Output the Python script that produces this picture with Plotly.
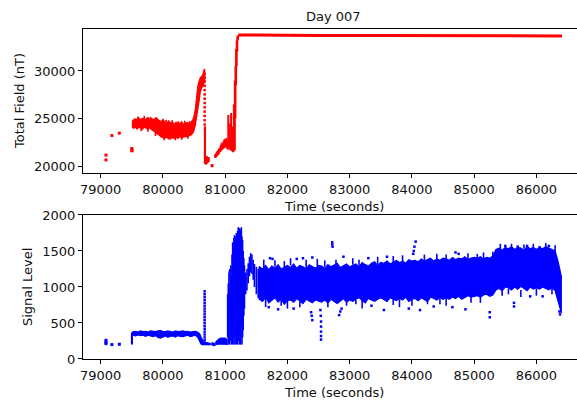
import plotly.graph_objects as go
from plotly.subplots import make_subplots

# ---------------- Total field (nT) ----------------
# isolated early readings
tf_pts_t = [79085, 79085, 79180, 79300, 79500, 79500, 79505, 80790]
tf_pts_v = [21200, 20700, 23250, 23500, 21900, 21650, 21750, 20100]

# noisy band before the field jump: time, lower and upper envelope
tf_band_t = [79510, 79530, 79550, 79580, 79610, 79640, 79670, 79700, 79730, 79760, 79790,
             79820, 79850, 79880, 79910, 79940, 79970, 80000, 80030, 80060, 80090,
             80120, 80150, 80180, 80210, 80240, 80270, 80300, 80330, 80360, 80390,
             80420, 80450, 80480, 80500, 80520, 80540, 80560, 80580, 80600, 80620,
             80640, 80660, 80672]
tf_band_lo = [24100, 24000, 24150, 23950, 24100, 24050, 23900, 24150, 24000, 23900, 24050,
              23850, 23700, 23600, 23400, 23300, 23100, 23000, 22950, 23100, 22900,
              23050, 23000, 22950, 23100, 22950, 23150, 23000, 23050, 23150, 23100,
              23200, 23300, 23500, 23800, 24300, 24800, 25800, 26800, 27800, 28200,
              28400, 28700, 29000]
tf_band_hi = [24800, 24900, 25000, 24950, 25100, 24900, 25050, 25000, 24950, 25150, 24900,
              25050, 24850, 25100, 24950, 24800, 24700, 24900, 24650, 24500, 24800,
              24550, 24700, 24400, 24650, 24500, 24450, 24700, 24400, 24550, 24600,
              24500, 24650, 24900, 25300, 26000, 27500, 28400, 28900, 29300, 29400,
              29600, 30100, 30200]

# short excursions off the band edges: time, from, to
tf_spk_t = [79600, 79700, 79800, 79900, 80000, 80050, 80150, 80250, 80350, 80430,
            79650, 79760, 79880, 80020, 80120, 80200, 80300, 80400]
tf_spk_a = [24900, 25000, 24950, 24900, 24800, 24600, 24600, 24500, 24500, 24500,
            24050, 24000, 23600, 23000, 23050, 23000, 23050, 23150]
tf_spk_b = [25250, 25300, 25200, 25150, 25000, 24900, 24850, 24750, 24800, 24750,
            23700, 23650, 23200, 22750, 22800, 22750, 22800, 22900]

# bottom of the drop
tf_dip_t = [80675, 80690, 80705, 80720, 80735]
tf_dip_lo = [20300, 20200, 20300, 20400, 20500]
tf_dip_hi = [24200, 20900, 21100, 20800, 21000]

# sparse dotted drop after the peak
tf_drop_t = [80670] * 13
tf_drop_v = [29700, 29300, 28900, 28450, 28000, 27550, 27100, 26650, 26200, 25750,
             25300, 24850, 24400]

# recovery ramp up to lock
tf_ramp_t = [80840, 80855, 80870, 80885, 80900, 80915, 80930, 80945, 80960, 80975,
             80990, 81005, 81020, 81035, 81050, 81065, 81080, 81095, 81110, 81125,
             81140, 81155, 81165, 81175, 81185, 81195, 81205]
tf_ramp_lo = [20900, 20950, 21100, 21200, 21300, 21500, 21600, 21700, 21800, 21900,
              21950, 22000, 22050, 21800, 21800, 22200, 21700, 22000, 21600, 21500,
              21600, 21700, 25000, 28500, 30500, 32000, 33200]
tf_ramp_hi = [21300, 21450, 21600, 21700, 21900, 22000, 22300, 22500, 22400, 22700,
              22900, 22800, 23000, 22700, 25400, 24500, 23200, 25600, 24200, 23500,
              26500, 29000, 30500, 32300, 33200, 33600, 33750]

# locked steady field
tf_lock_t = [81210, 81500, 82000, 82500, 82900, 83000, 83500, 84000, 84500, 85000,
             85300, 85500, 86000, 86300, 86410]
tf_lock_v = [33760, 33740, 33730, 33720, 33720, 33700, 33700, 33690, 33680, 33680,
             33660, 33650, 33650, 33660, 33670]

# ---------------- Signal level ----------------
sl_pts_t = [79085, 79085, 79085, 79180, 79300, 80800, 80820, 81080]
sl_pts_v = [260, 230, 213, 200, 205, 210, 200, 1220]

# first rise of the signal at 79500
sl_edge_t = [79500, 79505]
sl_edge_lo = [200, 210]
sl_edge_hi = [360, 370]

sl_low_t = [79510, 79520, 79560, 79600, 79640, 79680, 79720, 79760, 79800, 79840,
            79880, 79920, 79960, 80000, 80040, 80080, 80120, 80160, 80200, 80240,
            80280, 80320, 80360, 80400, 80440, 80480, 80520, 80560, 80590, 80610,
            80630, 80650, 80690, 80710, 80730, 80760]
sl_low_lo = [320, 330, 320, 335, 325, 330, 315, 330, 320, 310,
             325, 300, 290, 310, 320, 300, 315, 320, 305, 325,
             315, 310, 320, 330, 310, 325, 330, 300, 240, 210,
             200, 200, 200, 195, 200, 200]
sl_low_hi = [370, 380, 385, 375, 390, 380, 385, 375, 390, 385,
             380, 390, 395, 385, 380, 390, 385, 375, 390, 380,
             385, 390, 380, 385, 375, 380, 385, 370, 350, 310,
             260, 240, 230, 225, 220, 215]

# small hump before the relock
sl_hump_t = [80850, 80880, 80910, 80940, 80970, 81000, 81030]
sl_hump_lo = [200, 205, 210, 205, 210, 205, 200]
sl_hump_hi = [240, 265, 285, 290, 285, 290, 270]

# spike column after loss of lock
sl_col_t = [80670] * 18
sl_col_v = [940, 900, 860, 820, 780, 740, 700, 660, 620, 580, 540, 500, 460, 420,
            380, 340, 300, 260]

# oscillation while the sensor relocks
sl_osc_t = [81040, 81050, 81060, 81070, 81080, 81090, 81100, 81110, 81120, 81130,
            81140, 81150, 81160, 81170, 81180, 81190, 81200, 81210, 81220, 81230,
            81240, 81250, 81260, 81270, 81280, 81290, 81300, 81310, 81330, 81350,
            81370, 81390, 81410, 81430, 81450, 81470, 81500, 81530]
sl_osc_lo = [300, 200, 450, 200, 250, 600, 200, 300, 200, 500,
             200, 300, 200, 700, 200, 400, 200, 250, 600, 200,
             300, 200, 500, 200, 300, 400, 600, 700, 900, 950,
             1050, 1150, 1200, 1180, 1100, 1000, 900, 850]
sl_osc_hi = [900, 1050, 1200, 1000, 1250, 1300, 1150, 1450, 1620, 1500,
             1680, 1720, 1600, 1700, 1750, 1640, 1780, 1830, 1700, 1820,
             1800, 1750, 1830, 1700, 1650, 1500, 1400, 1300, 1200, 1250,
             1330, 1420, 1470, 1450, 1380, 1320, 1280, 1250]

# locked signal band
sl_band_t = [81540, 81550, 81600, 81650, 81700, 81750, 81800, 81850, 81900, 81950, 82000,
             82050, 82100, 82150, 82200, 82250, 82300, 82350, 82400, 82450, 82500,
             82550, 82600, 82650, 82700, 82750, 82800, 82850, 82900, 82950, 83000,
             83050, 83100, 83150, 83200, 83250, 83300, 83350, 83400, 83450, 83500,
             83550, 83600, 83650, 83700, 83750, 83800, 83850, 83900, 83950, 84000,
             84050, 84100, 84150, 84200, 84250, 84300, 84350, 84400, 84450, 84500,
             84550, 84600, 84650, 84700, 84750, 84800, 84850, 84900, 84950, 85000,
             85050, 85100, 85150, 85200, 85250, 85300, 85350, 85400, 85450, 85500,
             85550, 85600, 85650, 85700, 85750, 85800, 85850, 85900, 85950, 86000,
             86050, 86100, 86150, 86200, 86250, 86300, 86350, 86400]
sl_band_lo = [850, 830, 800, 860, 780, 820, 850, 790, 830, 760, 810,
              820, 790, 840, 800, 770, 830, 810, 780, 820, 800,
              790, 820, 780, 830, 800, 770, 810, 840, 790, 820,
              800, 830, 850, 810, 780, 840, 820, 800, 830, 850,
              820, 800, 850, 830, 810, 840, 820, 860, 800, 830,
              840, 810, 850, 830, 800, 860, 840, 820, 850, 830,
              850, 830, 860, 840, 870, 830, 850, 880, 860, 870,
              880, 860, 890, 900, 870, 890, 960, 980, 950, 1000,
              990, 960, 1000, 970, 1010, 980, 950, 1000, 970, 990,
              970, 1000, 980, 960, 990, 950, 800, 640]
sl_band_hi = [1250, 1280, 1250, 1300, 1240, 1290, 1260, 1310, 1250, 1280, 1300,
              1270, 1320, 1260, 1300, 1280, 1250, 1310, 1290, 1260, 1300,
              1290, 1260, 1310, 1280, 1300, 1330, 1270, 1290, 1320, 1280,
              1300, 1320, 1280, 1340, 1310, 1290, 1330, 1350, 1300, 1340,
              1330, 1360, 1320, 1350, 1370, 1340, 1360, 1330, 1380, 1360,
              1370, 1350, 1390, 1360, 1380, 1400, 1360, 1390, 1370, 1400,
              1390, 1370, 1410, 1380, 1400, 1390, 1420, 1380, 1400, 1410,
              1400, 1420, 1390, 1410, 1400, 1430, 1520, 1540, 1510, 1550,
              1530, 1560, 1520, 1550, 1540, 1510, 1560, 1530, 1550, 1520,
              1550, 1530, 1560, 1540, 1520, 1500, 1350, 1150]

# short excursions off the band edges: time, from, to
sl_spk_t = [81620, 81800, 81950, 82050, 82300, 82480, 82600, 82780, 83050, 83150,
            83450, 83700, 83850, 84200, 84400, 84550, 84900, 85050, 85150, 85300,
            85420, 85600, 85800, 85950, 86150, 86300,
            81650, 81900, 82000, 82200, 82650, 82950, 83100, 83200, 83700, 83800,
            84000, 84250, 84450, 84550, 84950, 85100, 85450, 85550, 85750, 86000,
            86250]
sl_spk_a = [1260, 1280, 1270, 1300, 1260, 1290, 1280, 1300, 1310, 1300,
            1320, 1340, 1350, 1370, 1380, 1380, 1390, 1400, 1400, 1420,
            1520, 1540, 1530, 1530, 1540, 1500,
            850, 830, 810, 800, 790, 800, 820, 820, 830, 830,
            830, 840, 840, 850, 860, 870, 960, 980, 960, 980,
            980]
sl_spk_b = [1380, 1370, 1360, 1400, 1380, 1390, 1370, 1380, 1400, 1380,
            1420, 1430, 1440, 1450, 1460, 1450, 1470, 1460, 1480, 1490,
            1600, 1600, 1590, 1600, 1610, 1580,
            720, 740, 700, 720, 720, 740, 760, 700, 750, 720,
            740, 760, 760, 740, 780, 780, 880, 900, 860, 880,
            900]

# scattered outlying readings around the band
sl_out_t = [82720, 82720, 82725, 84060, 84040, 84030, 84020, 81720, 81760, 82150,
            82250, 82400, 82900, 83300, 83600, 84700, 84750, 85500, 85700, 85850,
            86200, 86050,
            82540, 82540, 82540, 82540, 82540, 82535, 82530, 82400, 82390, 82380,
            82830, 82850, 82870, 82100, 81850, 81700, 83350, 83550, 83950, 84130,
            84350, 84650, 84860, 85250, 85250, 85640, 85640, 85900, 86100, 86380,
            86370]
sl_out_v = [1620, 1590, 1560, 1630, 1560, 1500, 1460, 1400, 1390, 1390,
            1400, 1410, 1420, 1400, 1420, 1480, 1460, 1570, 1560, 1570,
            1570, 1550,
            270, 320, 380, 450, 520, 600, 680, 540, 600, 650,
            610, 660, 700, 700, 690, 720, 740, 680, 700, 680,
            730, 720, 690, 580, 650, 730, 780, 870, 870, 620,
            660]

X_TICKS = [79000, 80000, 81000, 82000, 83000, 84000, 85000, 86000]
Y1_TICKS = [20000, 25000, 30000]
Y2_TICKS = [0, 500, 1000, 1500, 2000]
X_RANGE = [78716, 86652]
X_MID = (78716 + 86766) / 2
RED = "#ff0000"
BLUE = "#0000ff"
FONT = "DejaVu Sans"
TXT = "#111111"

fig = make_subplots(rows=2, cols=1, vertical_spacing=0.1272)


def add_fill(t, lo, hi, color, row, edge=1.2):
    """Solid band between a lower and an upper envelope."""
    xs = list(t) + list(reversed(t)) + [t[0]]
    ys = list(hi) + list(reversed(lo)) + [hi[0]]
    fig.add_trace(go.Scatter(x=xs, y=ys, mode="lines", fill="toself", fillcolor=color,
                             line=dict(color=color, width=edge), hoverinfo="skip",
                             showlegend=False), row=row, col=1)


def add_segments(t, lo, hi, color, width, row):
    """One vertical stroke per sample, from its low to its high reading."""
    xs, ys = [], []
    for a, b, c in zip(t, lo, hi):
        xs += [a, a, None]
        ys += [b, c, None]
    fig.add_trace(go.Scatter(x=xs, y=ys, mode="lines", line=dict(color=color, width=width),
                             hoverinfo="skip", showlegend=False), row=row, col=1)


def add_dots(t, v, color, row, size=3):
    fig.add_trace(go.Scatter(x=t, y=v, mode="markers",
                             marker=dict(color=color, size=size, symbol="square", line=dict(width=0)),
                             showlegend=False), row=row, col=1)


# top panel
add_fill(tf_band_t, tf_band_lo, tf_band_hi, RED, 1)
add_segments(tf_spk_t, tf_spk_a, tf_spk_b, RED, 1.6, 1)
add_segments(tf_dip_t, tf_dip_lo, tf_dip_hi, RED, 2.2, 1)
add_segments(tf_ramp_t, tf_ramp_lo, tf_ramp_hi, RED, 2.0, 1)
fig.add_trace(go.Scatter(x=tf_lock_t, y=tf_lock_v, mode="lines", line=dict(color=RED, width=3),
                         showlegend=False), row=1, col=1)
add_dots(tf_pts_t, tf_pts_v, RED, 1)
add_dots(tf_drop_t, tf_drop_v, RED, 1, size=2.5)

# bottom panel
add_segments(sl_edge_t, sl_edge_lo, sl_edge_hi, BLUE, 1.8, 2)
add_fill(sl_low_t, sl_low_lo, sl_low_hi, BLUE, 2)
add_fill(sl_hump_t, sl_hump_lo, sl_hump_hi, BLUE, 2)
add_segments(sl_osc_t, sl_osc_lo, sl_osc_hi, BLUE, 1.6, 2)
add_fill(sl_band_t, sl_band_lo, sl_band_hi, BLUE, 2)
add_segments(sl_spk_t, sl_spk_a, sl_spk_b, BLUE, 1.6, 2)
add_dots(sl_pts_t, sl_pts_v, BLUE, 2)
add_dots(sl_col_t, sl_col_v, BLUE, 2, size=2.5)
add_dots(sl_out_t, sl_out_v, BLUE, 2, size=2.5)

axis_style = dict(showline=True, linecolor="#000000", linewidth=1, ticks="outside",
                  ticklen=4, tickwidth=1, tickcolor="#000000", showgrid=False, zeroline=False,
                  tickfont=dict(family=FONT, size=13, color=TXT))

for r in (1, 2):
    fig.update_xaxes(range=X_RANGE, tickvals=X_TICKS, ticktext=[str(v) for v in X_TICKS],
                     mirror=True, row=r, col=1, **axis_style)

fig.update_yaxes(range=[19330, 34390], tickvals=Y1_TICKS, ticktext=[str(v) for v in Y1_TICKS],
                 row=1, col=1, **axis_style)
fig.update_yaxes(range=[0, 2000], tickvals=Y2_TICKS, ticktext=[str(v) for v in Y2_TICKS],
                 row=2, col=1, **axis_style)

fig.update_layout(
    width=577, height=407,
    margin=dict(l=83, r=0, t=29, b=48),
    plot_bgcolor="white", paper_bgcolor="white",
    font=dict(family=FONT, size=13, color=TXT),
)
fig.update_layout(yaxis=dict(domain=[0.5636, 1.0]), yaxis2=dict(domain=[0.0, 0.4364]))

ann = dict(showarrow=False, font=dict(family=FONT, size=13, color=TXT))
fig.add_annotation(text="Day 007", xref="x", x=X_MID, yref="paper", y=1.039,
                   xanchor="center", yanchor="middle", **ann)
fig.add_annotation(text="Time (seconds)", xref="x", x=X_MID, yref="paper", y=0.4636,
                   xanchor="center", yanchor="middle", **ann)
fig.add_annotation(text="Time (seconds)", xref="x", x=X_MID, yref="paper", y=-0.1,
                   xanchor="center", yanchor="middle", **ann)
fig.add_annotation(text="Total Field (nT)", xref="paper", x=-0.1296, yref="paper", y=0.7818,
                   textangle=-90, xanchor="center", yanchor="middle", **ann)
fig.add_annotation(text="Signal Level", xref="paper", x=-0.1134, yref="paper", y=0.218,
                   textangle=-90, xanchor="center", yanchor="middle", **ann)

fig.write_html("out.html")
